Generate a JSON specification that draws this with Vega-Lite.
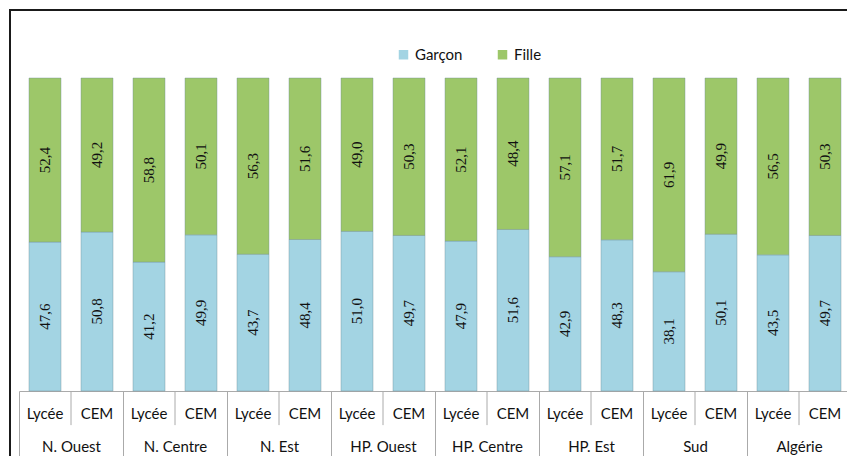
{
  "$schema": "https://vega.github.io/schema/vega-lite/v6.json",
  "width": 840,
  "height": 460,
  "padding": {"left": 10, "top": 10, "right": 0, "bottom": 0},
  "background": "white",
  "config": {
    "view": {"stroke": "#1a1a1a", "strokeWidth": 2},
    "locale": {"number": {"decimal": ",", "thousands": ".", "grouping": [3], "currency": ["", " €"]}}
  },
  "data": {"values": [
    {"region": "N. Ouest", "niveau": "Lycée", "sexe": "Garçon", "value": 47.6},
    {"region": "N. Ouest", "niveau": "Lycée", "sexe": "Fille", "value": 52.4},
    {"region": "N. Ouest", "niveau": "CEM", "sexe": "Garçon", "value": 50.8},
    {"region": "N. Ouest", "niveau": "CEM", "sexe": "Fille", "value": 49.2},
    {"region": "N. Centre", "niveau": "Lycée", "sexe": "Garçon", "value": 41.2},
    {"region": "N. Centre", "niveau": "Lycée", "sexe": "Fille", "value": 58.8},
    {"region": "N. Centre", "niveau": "CEM", "sexe": "Garçon", "value": 49.9},
    {"region": "N. Centre", "niveau": "CEM", "sexe": "Fille", "value": 50.1},
    {"region": "N. Est", "niveau": "Lycée", "sexe": "Garçon", "value": 43.7},
    {"region": "N. Est", "niveau": "Lycée", "sexe": "Fille", "value": 56.3},
    {"region": "N. Est", "niveau": "CEM", "sexe": "Garçon", "value": 48.4},
    {"region": "N. Est", "niveau": "CEM", "sexe": "Fille", "value": 51.6},
    {"region": "HP. Ouest", "niveau": "Lycée", "sexe": "Garçon", "value": 51.0},
    {"region": "HP. Ouest", "niveau": "Lycée", "sexe": "Fille", "value": 49.0},
    {"region": "HP. Ouest", "niveau": "CEM", "sexe": "Garçon", "value": 49.7},
    {"region": "HP. Ouest", "niveau": "CEM", "sexe": "Fille", "value": 50.3},
    {"region": "HP. Centre", "niveau": "Lycée", "sexe": "Garçon", "value": 47.9},
    {"region": "HP. Centre", "niveau": "Lycée", "sexe": "Fille", "value": 52.1},
    {"region": "HP. Centre", "niveau": "CEM", "sexe": "Garçon", "value": 51.6},
    {"region": "HP. Centre", "niveau": "CEM", "sexe": "Fille", "value": 48.4},
    {"region": "HP. Est", "niveau": "Lycée", "sexe": "Garçon", "value": 42.9},
    {"region": "HP. Est", "niveau": "Lycée", "sexe": "Fille", "value": 57.1},
    {"region": "HP. Est", "niveau": "CEM", "sexe": "Garçon", "value": 48.3},
    {"region": "HP. Est", "niveau": "CEM", "sexe": "Fille", "value": 51.7},
    {"region": "Sud", "niveau": "Lycée", "sexe": "Garçon", "value": 38.1},
    {"region": "Sud", "niveau": "Lycée", "sexe": "Fille", "value": 61.9},
    {"region": "Sud", "niveau": "CEM", "sexe": "Garçon", "value": 50.1},
    {"region": "Sud", "niveau": "CEM", "sexe": "Fille", "value": 49.9},
    {"region": "Algérie", "niveau": "Lycée", "sexe": "Garçon", "value": 43.5},
    {"region": "Algérie", "niveau": "Lycée", "sexe": "Fille", "value": 56.5},
    {"region": "Algérie", "niveau": "CEM", "sexe": "Garçon", "value": 49.7},
    {"region": "Algérie", "niveau": "CEM", "sexe": "Fille", "value": 50.3}
  ]},
  "resolve": {"scale": {"y": "independent"}},
  "layer": [
    {
      "layer": [
        {
          "mark": {"type": "bar", "stroke": "#6f8f98", "strokeOpacity": 0.4, "strokeWidth": 1},
          "encoding": {
            "x": {"field": "region", "type": "nominal", "sort": null,
                  "scale": {"range": [9, 841], "paddingInner": 0, "paddingOuter": 0},
                  "axis": {"orient": "bottom", "offset": -79, "title": null, "labelAngle": 0,
                           "domainColor": "#aaaaaa", "tickColor": "#aaaaaa", "tickBand": "extent",
                           "tickSize": 65, "labelPadding": -10, "labelBaseline": "middle",
                           "labelFont": "Lato", "labelFontSize": 15, "labelColor": "#111111"}},
            "xOffset": {"field": "niveau", "type": "nominal", "sort": ["Lycée", "CEM"],
                        "scale": {"domain": ["Lycée", "CEM"], "paddingInner": 0.3846, "paddingOuter": 0.1923}},
            "y": {"field": "value", "type": "quantitative", "stack": "zero", "axis": null,
                  "scale": {"domain": [0, 100], "range": [381, 68], "nice": false, "zero": false}},
            "color": {"field": "sexe", "type": "nominal",
                      "scale": {"domain": ["Garçon", "Fille"], "range": ["#a3d4e3", "#9dc769"]},
                      "legend": {"orient": "none", "legendX": 386, "legendY": 37, "direction": "horizontal",
                                 "title": null, "symbolType": "square", "symbolSize": 90,
                                 "symbolStrokeWidth": 0, "labelFont": "Lato", "labelFontSize": 15,
                                 "labelColor": "#111111", "labelOffset": 4, "columnPadding": 32, "padding": 0}}
          }
        },
        {
          "transform": [{"filter": "datum.sexe === 'Garçon' && datum.niveau === 'Lycée'"}],
          "mark": {"type": "rule", "color": "#aaaaaa", "strokeWidth": 1},
          "encoding": {
            "x": {"field": "region", "type": "nominal", "sort": null, "bandPosition": 0.5},
            "y": {"datum": 0},
            "y2": {"datum": -10.9}
          }
        },
        {
          "transform": [{"filter": "datum.sexe === 'Garçon'"}],
          "mark": {"type": "text", "font": "Lato", "fontSize": 15, "color": "#111111", "baseline": "middle"},
          "encoding": {
            "x": {"field": "region", "type": "nominal", "sort": null},
            "xOffset": {"field": "niveau", "type": "nominal", "sort": ["Lycée", "CEM"]},
            "y": {"datum": -7.3},
            "text": {"field": "niveau"}
          }
        }
      ]
    },
    {
      "transform": [{"filter": "datum.sexe === 'Garçon'"}],
      "mark": {"type": "text", "font": "Liberation Serif", "fontSize": 15, "angle": 270, "color": "#111111", "baseline": "middle", "align": "center"},
      "encoding": {
        "x": {"field": "region", "type": "nominal", "sort": null},
        "xOffset": {"field": "niveau", "type": "nominal", "sort": ["Lycée", "CEM"]},
        "y": {"field": "value", "type": "quantitative", "axis": null,
              "scale": {"domain": [0, 100], "range": [381, 224.5], "nice": false, "zero": false}},
        "text": {"field": "value", "type": "quantitative", "format": ".1f"}
      }
    },
    {
      "transform": [{"filter": "datum.sexe === 'Fille'"}],
      "mark": {"type": "text", "font": "Liberation Serif", "fontSize": 15, "angle": 270, "color": "#111111", "baseline": "middle", "align": "center"},
      "encoding": {
        "x": {"field": "region", "type": "nominal", "sort": null},
        "xOffset": {"field": "niveau", "type": "nominal", "sort": ["Lycée", "CEM"]},
        "y": {"field": "value", "type": "quantitative", "axis": null,
              "scale": {"domain": [0, 100], "range": [68, 224.5], "nice": false, "zero": false}},
        "text": {"field": "value", "type": "quantitative", "format": ".1f"}
      }
    }
  ]
}
